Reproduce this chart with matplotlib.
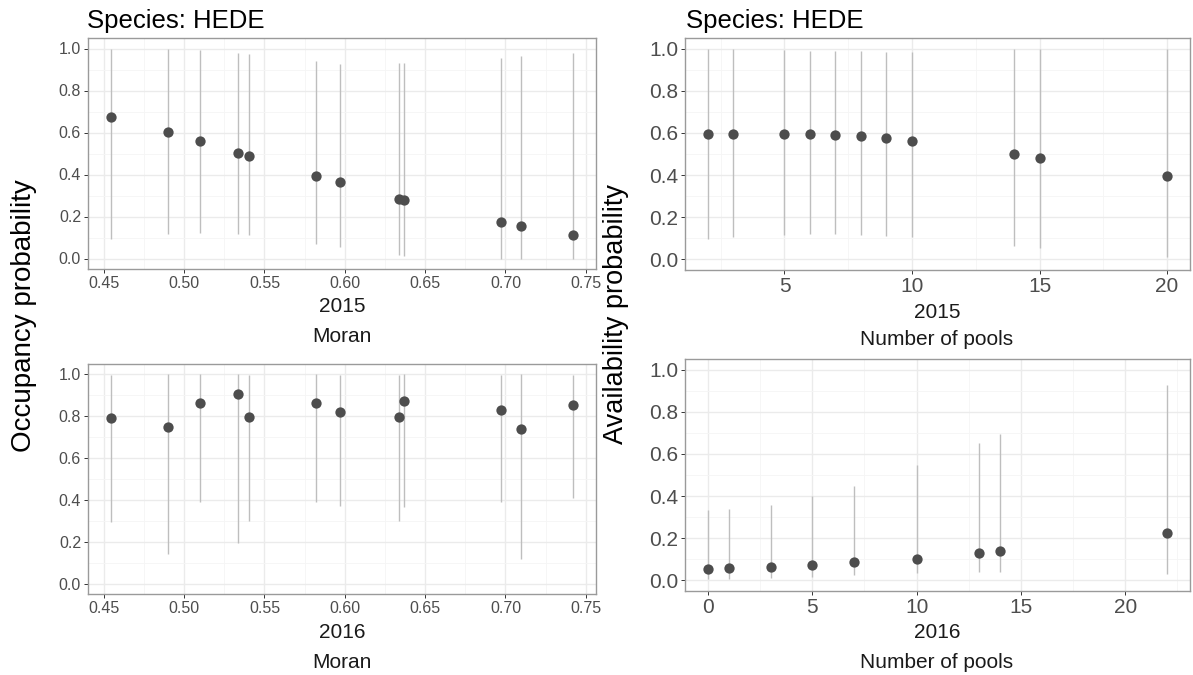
import matplotlib.pyplot as plt
import numpy as np

plt.rcParams["font.family"] = ["Liberation Sans", "DejaVu Sans"]

# ---------- data ----------
moran = [0.4545, 0.490, 0.5096, 0.5335, 0.5404, 0.582, 0.597, 0.634, 0.637, 0.697, 0.7096, 0.742]

occ15 = [0.675, 0.601, 0.558, 0.504, 0.488, 0.394, 0.362, 0.284, 0.278, 0.172, 0.155, 0.112]
occ15_lo = [0.094, 0.115, 0.120, 0.115, 0.112, 0.070, 0.053, 0.016, 0.014, 0.0, 0.0, 0.0]
occ15_hi = [1.0, 0.997, 0.992, 0.979, 0.974, 0.939, 0.928, 0.933, 0.933, 0.955, 0.963, 0.978]

occ16 = [0.794, 0.748, 0.865, 0.905, 0.795, 0.865, 0.821, 0.795, 0.873, 0.830, 0.738, 0.852]
occ16_lo = [0.294, 0.143, 0.392, 0.195, 0.298, 0.392, 0.371, 0.298, 0.368, 0.392, 0.116, 0.410]
occ16_hi = [0.995, 1.0, 1.0, 1.0, 0.995, 1.0, 0.995, 0.995, 1.0, 0.995, 1.0, 0.995]

pools15 = [2, 3, 5, 6, 7, 8, 9, 10, 14, 15, 20]
av15 = [0.597, 0.594, 0.597, 0.595, 0.592, 0.584, 0.576, 0.563, 0.498, 0.479, 0.398]
av15_lo = [0.097, 0.106, 0.117, 0.119, 0.119, 0.116, 0.113, 0.105, 0.063, 0.056, 0.013]
av15_hi = [0.997, 0.997, 0.992, 0.989, 0.986, 0.986, 0.984, 0.984, 0.997, 0.997, 1.0]

pools16 = [0, 1, 3, 5, 7, 10, 13, 14, 22]
av16 = [0.052, 0.057, 0.066, 0.074, 0.087, 0.104, 0.130, 0.138, 0.226]
av16_lo = [0.009, 0.009, 0.011, 0.016, 0.024, 0.033, 0.038, 0.038, 0.030]
av16_hi = [0.335, 0.339, 0.359, 0.399, 0.449, 0.546, 0.653, 0.696, 0.927]

W, H = 1193, 675
fig = plt.figure(figsize=(W / 100, H / 100), dpi=100)


def px_axes(l, t, r, b):
    return fig.add_axes([l / W, (H - b) / H, (r - l) / W, (b - t) / H])


def style(ax, x, xmaj, xmin, tick_fs):
    rng = max(x) - min(x)
    ax.set_xlim(min(x) - 0.05 * rng, max(x) + 0.05 * rng)
    ax.set_ylim(-0.05, 1.05)
    ax.set_xticks(xmaj)
    ax.set_xticks(xmin, minor=True)
    ax.set_yticks(np.arange(0, 1.01, 0.2))
    ax.set_yticks([0.1, 0.3, 0.5, 0.7, 0.9], minor=True)
    ax.set_yticklabels([f"{v:.1f}" for v in np.arange(0, 1.01, 0.2)])
    ax.grid(True, which="major", color="#EBEBEB", linewidth=1.0, zorder=0)
    ax.grid(True, which="minor", color="#F5F5F5", linewidth=0.6, zorder=0)
    ax.set_axisbelow(True)
    ax.tick_params(which="major", length=3, width=0.7, color="#333333",
                   labelsize=tick_fs, labelcolor="#4D4D4D", pad=2)
    ax.tick_params(which="minor", length=0)
    for s in ax.spines.values():
        s.set_color("#9A9A9A")
        s.set_linewidth(1.0)


def draw(ax, x, y, lo, hi):
    ax.vlines(x, lo, hi, color="#BEBEBE", linewidth=1.0, zorder=2)
    ax.scatter(x, y, s=55, color="#4D4D4D", zorder=3, linewidths=0)


# top-left
ax1 = px_axes(88, 38, 596, 269)
draw(ax1, moran, occ15, occ15_lo, occ15_hi)
style(ax1, moran, np.arange(0.45, 0.751, 0.05), np.arange(0.475, 0.75, 0.05), 11.5)
ax1.set_xticklabels([f"{v:.2f}" for v in np.arange(0.45, 0.751, 0.05)])

# bottom-left
ax2 = px_axes(88, 364, 596, 594)
draw(ax2, moran, occ16, occ16_lo, occ16_hi)
style(ax2, moran, np.arange(0.45, 0.751, 0.05), np.arange(0.475, 0.75, 0.05), 11.5)
ax2.set_xticklabels([f"{v:.2f}" for v in np.arange(0.45, 0.751, 0.05)])

# top-right
ax3 = px_axes(685, 38, 1190, 270)
draw(ax3, pools15, av15, av15_lo, av15_hi)
style(ax3, pools15, [5, 10, 15, 20], [2.5, 7.5, 12.5, 17.5], 15)

# bottom-right
ax4 = px_axes(685, 359, 1190, 591)
draw(ax4, pools16, av16, av16_lo, av16_hi)
style(ax4, pools16, [0, 5, 10, 15, 20], [2.5, 7.5, 12.5, 17.5, 22.5], 15)


def ftxt(x, y, s, **kw):
    fig.text(x / W, 1 - y / H, s, **kw)


ftxt(87, 21, "Species: HEDE", fontsize=18.5, ha="left", va="center")
ftxt(686, 21, "Species: HEDE", fontsize=18.5, ha="left", va="center")

ftxt(342, 306, "2015", fontsize=15, ha="center", va="center", color="#1A1A1A")
ftxt(342, 336, "Moran", fontsize=15, ha="center", va="center", color="#1A1A1A")
ftxt(342, 633, "2016", fontsize=15, ha="center", va="center", color="#1A1A1A")
ftxt(342, 662, "Moran", fontsize=15, ha="center", va="center", color="#1A1A1A")

ftxt(937, 313, "2015", fontsize=15, ha="center", va="center", color="#1A1A1A")
ftxt(937, 340, "Number of pools", fontsize=15, ha="center", va="center", color="#1A1A1A")
ftxt(937, 633, "2016", fontsize=15, ha="center", va="center", color="#1A1A1A")
ftxt(937, 662, "Number of pools", fontsize=15, ha="center", va="center", color="#1A1A1A")

ftxt(24, 316, "Occupancy probability", fontsize=20, rotation=90, ha="center", va="center")
ftxt(616, 314, "Availability probability", fontsize=19.5, rotation=90, ha="center", va="center")

fig.savefig("out.png", dpi=100)
